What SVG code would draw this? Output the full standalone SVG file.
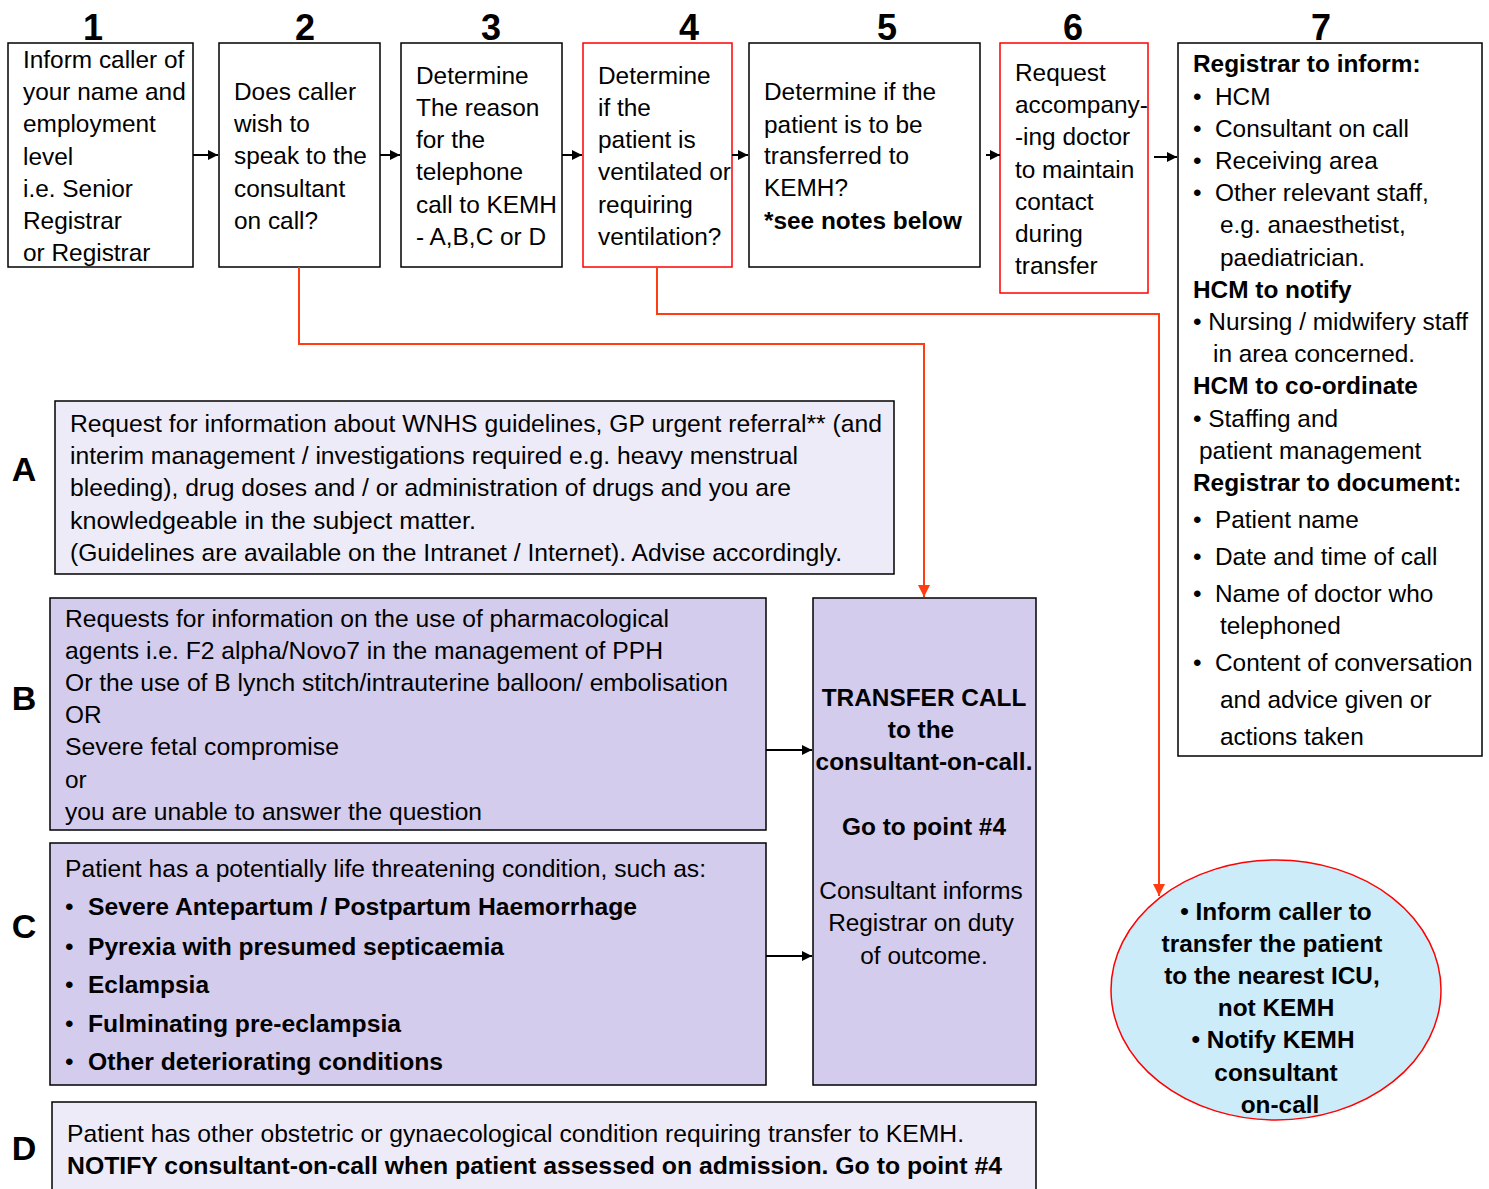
<svg xmlns="http://www.w3.org/2000/svg" width="1489" height="1189" viewBox="0 0 1489 1189">
<style>
text{font-family:"Liberation Sans",Arial,sans-serif;fill:#000}
.t{font-size:24.4px}
.b{font-weight:bold}
.num{font-size:36px;font-weight:bold;text-anchor:middle}
.lab{font-size:34px;font-weight:bold;text-anchor:middle}
.box{fill:#fff;stroke:#000;stroke-width:1.5}
.rbox{fill:#fff;stroke:#ff0000;stroke-width:1.5}
.pale{fill:#eeebf8;stroke:#000;stroke-width:1.5}
.purp{fill:#d4cced;stroke:#000;stroke-width:1.5}
.conn{fill:none;stroke:#000;stroke-width:2}
.red{fill:none;stroke:#ff3d12;stroke-width:2}
.mid{text-anchor:middle}
</style>
<defs>
<marker id="ab" viewBox="0 0 10 10" refX="10" refY="5" markerWidth="10" markerHeight="10" markerUnits="userSpaceOnUse" orient="auto"><path d="M0,0 L10,5 L0,10 z" fill="#000"/></marker>
<marker id="ar" viewBox="0 0 10 10" refX="10" refY="5" markerWidth="12" markerHeight="12" markerUnits="userSpaceOnUse" orient="auto"><path d="M0,0 L10,5 L0,10 z" fill="#ff3d12"/></marker>
</defs>

<g id="numbers">
<text class="num" x="93" y="40">1</text>
<text class="num" x="305" y="40">2</text>
<text class="num" x="491" y="40">3</text>
<text class="num" x="689" y="40">4</text>
<text class="num" x="887" y="40">5</text>
<text class="num" x="1073" y="40">6</text>
<text class="num" x="1321" y="40">7</text>
</g>

<g id="step1">
<rect class="box" x="8" y="43" width="185" height="224"/>
<text class="t" x="23" y="68">Inform caller of</text>
<text class="t" x="23" y="100">your name and</text>
<text class="t" x="23" y="132">employment</text>
<text class="t" x="23" y="165">level</text>
<text class="t" x="23" y="197">i.e. Senior</text>
<text class="t" x="23" y="229">Registrar</text>
<text class="t" x="23" y="261">or Registrar</text>
</g>

<g id="step2">
<rect class="box" x="219" y="43" width="161" height="224"/>
<text class="t" x="234" y="100">Does caller</text>
<text class="t" x="234" y="132">wish to</text>
<text class="t" x="234" y="164">speak to the</text>
<text class="t" x="234" y="197">consultant</text>
<text class="t" x="234" y="229">on call?</text>
</g>

<g id="step3">
<rect class="box" x="401" y="43" width="161" height="224"/>
<text class="t" x="416" y="84">Determine</text>
<text class="t" x="416" y="116">The reason</text>
<text class="t" x="416" y="148">for the</text>
<text class="t" x="416" y="180">telephone</text>
<text class="t" x="416" y="213">call to KEMH</text>
<text class="t" x="416" y="245">- A,B,C or D</text>
</g>

<g id="step4">
<rect class="rbox" x="583" y="43" width="149" height="224"/>
<text class="t" x="598" y="84">Determine</text>
<text class="t" x="598" y="116">if the</text>
<text class="t" x="598" y="148">patient is</text>
<text class="t" x="598" y="180">ventilated or</text>
<text class="t" x="598" y="213">requiring</text>
<text class="t" x="598" y="245">ventilation?</text>
</g>

<g id="step5">
<rect class="box" x="749" y="43" width="231" height="224"/>
<text class="t" x="764" y="100">Determine if the</text>
<text class="t" x="764" y="133">patient is to be</text>
<text class="t" x="764" y="164">transferred to</text>
<text class="t" x="764" y="196">KEMH?</text>
<text class="t b" x="764" y="229">*see notes below</text>
</g>

<g id="step6">
<rect class="rbox" x="1000" y="43" width="148" height="250"/>
<text class="t" x="1015" y="81">Request</text>
<text class="t" x="1015" y="113">accompany-</text>
<text class="t" x="1015" y="145">-ing doctor</text>
<text class="t" x="1015" y="178">to maintain</text>
<text class="t" x="1015" y="210">contact</text>
<text class="t" x="1015" y="242">during</text>
<text class="t" x="1015" y="274">transfer</text>
</g>

<g id="step7">
<rect class="box" x="1178" y="43" width="304" height="713"/>
<text class="t b" x="1193" y="72">Registrar to inform:</text>
<text class="t" x="1193" y="105">•</text><text class="t" x="1215" y="105">HCM</text>
<text class="t" x="1193" y="137">•</text><text class="t" x="1215" y="137">Consultant on call</text>
<text class="t" x="1193" y="169">•</text><text class="t" x="1215" y="169">Receiving area</text>
<text class="t" x="1193" y="201">•</text><text class="t" x="1215" y="201">Other relevant staff,</text>
<text class="t" x="1220" y="233">e.g. anaesthetist,</text>
<text class="t" x="1220" y="266">paediatrician.</text>
<text class="t b" x="1193" y="298">HCM to notify</text>
<text class="t" x="1193" y="330">• Nursing / midwifery staff</text>
<text class="t" x="1213" y="362">in area concerned.</text>
<text class="t b" x="1193" y="394">HCM to co-ordinate</text>
<text class="t" x="1193" y="427">• Staffing and</text>
<text class="t" x="1199" y="459">patient management</text>
<text class="t b" x="1193" y="491">Registrar to document:</text>
<text class="t" x="1193" y="528">•</text><text class="t" x="1215" y="528">Patient name</text>
<text class="t" x="1193" y="565">•</text><text class="t" x="1215" y="565">Date and time of call</text>
<text class="t" x="1193" y="602">•</text><text class="t" x="1215" y="602">Name of doctor who</text>
<text class="t" x="1220" y="634">telephoned</text>
<text class="t" x="1193" y="671">•</text><text class="t" x="1215" y="671">Content of conversation</text>
<text class="t" x="1220" y="708">and advice given or</text>
<text class="t" x="1220" y="745">actions taken</text>
</g>

<g id="boxA">
<text class="lab" x="24" y="481">A</text>
<rect class="pale" x="55" y="401" width="839" height="173"/>
<text class="t" x="70" y="432" textLength="812" lengthAdjust="spacingAndGlyphs">Request for information about WNHS guidelines, GP urgent referral** (and</text>
<text class="t" x="70" y="464" textLength="728" lengthAdjust="spacingAndGlyphs">interim management / investigations required e.g. heavy menstrual</text>
<text class="t" x="70" y="496" textLength="721" lengthAdjust="spacingAndGlyphs">bleeding), drug doses and / or administration of drugs and you are</text>
<text class="t" x="70" y="529" textLength="406" lengthAdjust="spacingAndGlyphs">knowledgeable in the  subject matter.</text>
<text class="t" x="70" y="561" textLength="772" lengthAdjust="spacingAndGlyphs">(Guidelines are available on the Intranet / Internet). Advise accordingly.</text>
</g>

<g id="boxB">
<text class="lab" x="24" y="710">B</text>
<rect class="purp" x="50" y="598" width="716" height="232"/>
<text class="t" x="65" y="627" textLength="604" lengthAdjust="spacingAndGlyphs">Requests for information on the use of pharmacological</text>
<text class="t" x="65" y="659" textLength="598" lengthAdjust="spacingAndGlyphs">agents i.e. F2 alpha/Novo7 in the management of PPH</text>
<text class="t" x="65" y="691" textLength="663" lengthAdjust="spacingAndGlyphs">Or the use of B lynch stitch/intrauterine balloon/ embolisation</text>
<text class="t" x="65" y="723">OR</text>
<text class="t" x="65" y="755" textLength="274" lengthAdjust="spacingAndGlyphs">Severe fetal compromise</text>
<text class="t" x="65" y="788">or</text>
<text class="t" x="65" y="820" textLength="417" lengthAdjust="spacingAndGlyphs">you are unable to answer the question</text>
</g>

<g id="boxC">
<text class="lab" x="24" y="938">C</text>
<rect class="purp" x="50" y="843" width="716" height="242"/>
<text class="t" x="65" y="877" textLength="641" lengthAdjust="spacingAndGlyphs">Patient has a potentially life threatening condition, such as:</text>
<text class="t" x="65" y="915">•</text><text class="t b" x="88" y="915" textLength="549" lengthAdjust="spacingAndGlyphs">Severe Antepartum / Postpartum Haemorrhage</text>
<text class="t" x="65" y="955">•</text><text class="t b" x="88" y="955" textLength="416" lengthAdjust="spacingAndGlyphs">Pyrexia with presumed septicaemia</text>
<text class="t" x="65" y="993">•</text><text class="t b" x="88" y="993" textLength="121" lengthAdjust="spacingAndGlyphs">Eclampsia</text>
<text class="t" x="65" y="1032">•</text><text class="t b" x="88" y="1032" textLength="313" lengthAdjust="spacingAndGlyphs">Fulminating pre-eclampsia</text>
<text class="t" x="65" y="1070">•</text><text class="t b" x="88" y="1070" textLength="355" lengthAdjust="spacingAndGlyphs">Other deteriorating conditions</text>
</g>

<g id="boxD">
<text class="lab" x="24" y="1160">D</text>
<rect class="pale" x="52" y="1102" width="984" height="100"/>
<text class="t" x="67" y="1142" textLength="897" lengthAdjust="spacingAndGlyphs">Patient has other obstetric or gynaecological condition requiring transfer to KEMH.</text>
<text class="t b" x="67" y="1174" textLength="935" lengthAdjust="spacingAndGlyphs">NOTIFY consultant-on-call when patient assessed on admission. Go to point #4</text>
</g>

<g id="transfer">
<rect class="purp" x="813" y="598" width="223" height="487"/>
<text class="t b mid" x="924" y="706">TRANSFER CALL</text>
<text class="t b mid" x="921" y="738">to the</text>
<text class="t b mid" x="924" y="770">consultant-on-call.</text>
<text class="t b mid" x="924" y="835">Go to point #4</text>
<text class="t mid" x="921" y="899">Consultant informs</text>
<text class="t mid" x="921" y="931">Registrar on duty</text>
<text class="t mid" x="924" y="964">of outcome.</text>
</g>

<g id="icu">
<ellipse cx="1276" cy="990" rx="165" ry="130" fill="#ccecfa" stroke="#ff0000" stroke-width="1.5"/>
<text class="t b mid" x="1276" y="920">• Inform caller to</text>
<text class="t b mid" x="1272" y="952">transfer the patient</text>
<text class="t b mid" x="1272" y="984">to the nearest ICU,</text>
<text class="t b mid" x="1276" y="1016">not KEMH</text>
<text class="t b mid" x="1273" y="1048">• Notify KEMH</text>
<text class="t b mid" x="1276" y="1081">consultant</text>
<text class="t b mid" x="1280" y="1113">on-call</text>
</g>

<g id="connectors">
<line class="conn" x1="193" y1="155" x2="218" y2="155" marker-end="url(#ab)"/>
<line class="conn" x1="380" y1="155" x2="400" y2="155" marker-end="url(#ab)"/>
<line class="conn" x1="562" y1="155" x2="582" y2="155" marker-end="url(#ab)"/>
<line class="conn" x1="732" y1="155" x2="748" y2="155" marker-end="url(#ab)"/>
<line class="conn" x1="986" y1="155" x2="1000" y2="155" marker-end="url(#ab)"/>
<line class="conn" x1="1154" y1="157" x2="1177" y2="157" marker-end="url(#ab)"/>
<line class="conn" x1="766" y1="750" x2="812" y2="750" marker-end="url(#ab)"/>
<line class="conn" x1="766" y1="956" x2="812" y2="956" marker-end="url(#ab)"/>
<polyline class="red" points="299,267 299,344 924,344 924,597" marker-end="url(#ar)"/>
<polyline class="red" points="657,267 657,314 1159,314 1159,896" marker-end="url(#ar)"/>
</g>
</svg>
